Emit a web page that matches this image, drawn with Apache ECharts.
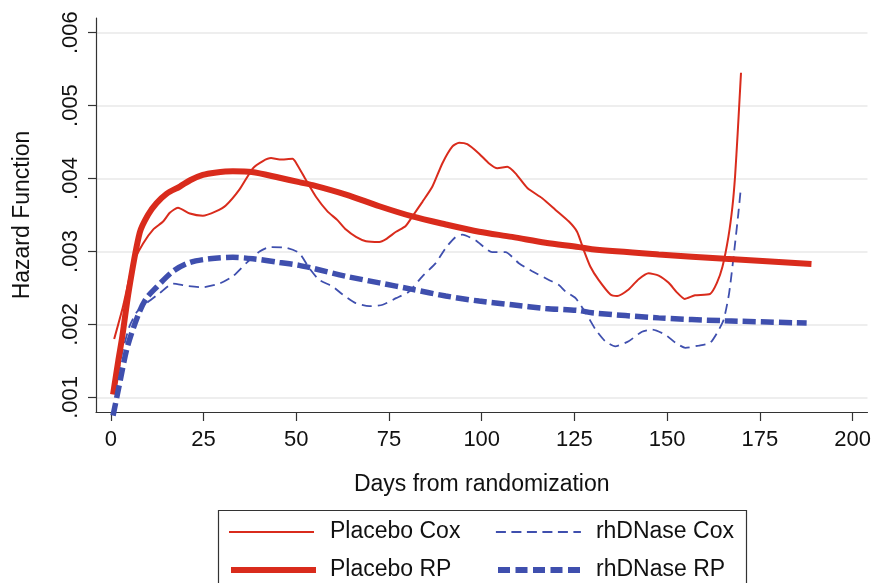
<!DOCTYPE html>
<html><head><meta charset="utf-8">
<script src="https://cdn.jsdelivr.net/npm/echarts@6/dist/echarts.min.js"></script>
<style>html,body{margin:0;padding:0;background:#fff}#c{width:874px;height:583px}</style>
</head><body><div id="c"></div>
<script>
const xTicks = [0, 25, 50, 75, 100, 125, 150, 175, 200];
const yTicks = [0.001, 0.002, 0.003, 0.004, 0.005, 0.006];

const placeboCoxDays = [0.9,3.3,6,8.7,11.4,14.1,15.9,18.1,21.3,24.8,28.3,31,34.7,38.3,41,43.2,45.5,49,50,52.6,55.3,58.4,61.1,63.4,66.1,68.8,72.4,74.2,76.9,79.5,81.3,84,86.7,89.4,92.1,93.9,96.1,99.3,101.9,104.2,106.9,109.1,112.3,116.3,119.9,123.5,125.7,127.5,129.3,131.5,134.7,136.5,139.6,142.3,145,147.7,150.4,152.6,154.7,157.5,161.6,163.4,164.9,166.5,167.6,168.3,169,169.5,169.9];
const placeboCoxHazard = [0.0018,0.00225,0.00284,0.00311,0.0033,0.00341,0.00353,0.0036,0.00352,0.00349,0.00355,0.00363,0.00385,0.00414,0.00424,0.00428,0.00426,0.00427,0.00421,0.00398,0.00375,0.00355,0.00343,0.0033,0.0032,0.00314,0.00313,0.00317,0.00327,0.00335,0.00348,0.00368,0.00389,0.00421,0.00444,0.00449,0.00447,0.00434,0.00421,0.00414,0.00416,0.00407,0.00387,0.00373,0.00357,0.00341,0.00327,0.00302,0.00279,0.00261,0.00241,0.00239,0.00248,0.00262,0.0027,0.00267,0.00257,0.00244,0.00235,0.0024,0.00242,0.00257,0.00279,0.0032,0.00362,0.00403,0.00462,0.00508,0.00545];

const rhdnaseCoxDays = [1,3,5,7,9.6,13.2,16.8,20.4,24.8,29.3,32.9,36.5,40.1,42.8,47.3,50.8,53.5,56.2,59.8,62.5,66.1,69.7,73.3,76.9,80.4,84,87.6,90.3,93,94.8,98.4,102.8,106.4,110,113.6,118.1,120.8,122.6,125.3,128,130.7,133.3,136,139.6,143.2,145.9,149.5,152.2,154.9,158.5,161.6,163.4,165.2,166.7,168.1,169.2,169.9];
const rhdnaseCoxHazard = [0.0011,0.0016,0.00197,0.00217,0.00229,0.00243,0.00256,0.00253,0.00251,0.00256,0.00266,0.00284,0.003,0.00306,0.00305,0.00298,0.00277,0.00261,0.00252,0.00241,0.00229,0.00225,0.00227,0.00236,0.00245,0.00266,0.00284,0.00305,0.0032,0.00323,0.00315,0.00299,0.00299,0.00284,0.00273,0.00261,0.00254,0.00245,0.00236,0.00216,0.00193,0.00177,0.0017,0.00177,0.0019,0.00193,0.00186,0.00175,0.00168,0.00171,0.00175,0.00188,0.00206,0.00243,0.00302,0.00353,0.00389];

const placeboRPDays = [0.6,2,3.1,4.9,7.8,10,12.3,15,18.6,21.5,24.8,28,32.9,38,45.5,50.8,54.4,63.4,72.4,81.3,90.3,99.3,108.2,117.2,126.2,129.7,147.7,165.6,188.9];
const placeboRPHazard = [0.00104,0.0015,0.00184,0.00248,0.00326,0.0035,0.00366,0.00379,0.00389,0.00398,0.00405,0.00408,0.0041,0.00409,0.00401,0.00395,0.00391,0.00378,0.00362,0.00348,0.00337,0.00327,0.0032,0.00312,0.00306,0.00303,0.00296,0.0029,0.00283];

const rhdnaseRPDays = [0.6,2.2,4.5,7.6,9.6,12.1,16.8,21.3,26.6,32.9,38.3,45.5,50.8,54.4,63.4,72.4,81.3,90.3,99.3,108.2,117.2,126.2,129.7,147.7,165.6,187.6];
const rhdnaseRPHazard = [0.00075,0.00115,0.0017,0.00216,0.00236,0.0025,0.00273,0.00285,0.0029,0.00292,0.0029,0.00285,0.00281,0.00277,0.00266,0.00257,0.00248,0.00239,0.00232,0.00227,0.00222,0.00219,0.00216,0.00209,0.00205,0.00202];

const pair = (xs, ys) => xs.map((x, i) => [x, ys[i]]);
const FONT = '"Liberation Sans", Arial, sans-serif';
const RED = '#d92b1c', BLUE = '#3f4fae', INK = '#111';

function legendAt(name, left, top, pad, lineStyle) {
  return {
    data: [{ name: name }], left: left, top: top, padding: 0,
    itemWidth: 85, itemHeight: 30, selectedMode: false,
    itemStyle: { opacity: 0, borderWidth: 0 },
    lineStyle: lineStyle,
    textStyle: { fontSize: 23, color: INK, fontFamily: FONT, lineHeight: 30, padding: [0, 0, 0, pad] }
  };
}

const chart = echarts.init(document.getElementById('c'), null, { renderer: 'canvas' });
chart.setOption({
  animation: false,
  backgroundColor: '#fff',
  grid: { left: 96, right: 5, top: 18, bottom: 171, containLabel: false },
  xAxis: {
    type: 'value', min: -4, max: 204,
    name: 'Days from randomization', nameLocation: 'middle', nameGap: 61,
    nameTextStyle: { fontSize: 23, color: INK, fontFamily: FONT },
    axisLine: { show: true, onZero: false, lineStyle: { color: '#333', width: 1.2 } },
    axisTick: { show: true, length: 9, customValues: xTicks, lineStyle: { color: '#333', width: 1.2 } },
    axisLabel: { customValues: xTicks, fontSize: 22, color: INK, margin: 17, fontFamily: FONT },
    splitLine: { show: false }
  },
  yAxis: {
    type: 'value', min: 0.0008, max: 0.0062,
    name: 'Hazard Function', nameLocation: 'middle', nameGap: 62, nameRotate: 90,
    nameTextStyle: { fontSize: 23, color: INK, fontFamily: FONT },
    axisLine: { show: true, onZero: false, lineStyle: { color: '#333', width: 1.2 } },
    axisTick: { show: true, length: 8, customValues: yTicks, lineStyle: { color: '#333', width: 1.2 } },
    axisLabel: { customValues: yTicks, rotate: 90, fontSize: 22, color: INK, margin: 14, fontFamily: FONT,
      formatter: v => v.toFixed(3).replace(/^0/, '') },
    splitLine: { show: true, lineStyle: { color: '#e9e9e9', width: 1.5 } }
  },
  legend: [
    legendAt('Placebo Cox', 228, 517, 11, { color: RED, width: 2 }),
    legendAt('rhDNase Cox', 495, 517, 10, { color: BLUE, width: 1.8, type: [10, 5.5] }),
    legendAt('Placebo RP', 228, 555, 9, { color: RED, width: 6 }),
    legendAt('rhDNase RP', 495, 555, 8, { color: BLUE, width: 6, type: [12, 5.5] })
  ],
  graphic: [{
    type: 'rect', shape: { x: 218.5, y: 510.5, width: 528, height: 100 },
    style: { fill: 'none', stroke: '#333', lineWidth: 1.2 }, silent: true
  }],
  series: [
    { name: 'Placebo Cox', type: 'line', data: pair(placeboCoxDays, placeboCoxHazard), showSymbol: false, symbol: 'none',
      smooth: 0.2, color: RED, lineStyle: { color: RED, width: 2 } },
    { name: 'rhDNase Cox', type: 'line', data: pair(rhdnaseCoxDays, rhdnaseCoxHazard), showSymbol: false, symbol: 'none',
      smooth: 0.2, color: BLUE, lineStyle: { color: BLUE, width: 1.8, type: [10, 6] } },
    { name: 'Placebo RP', type: 'line', data: pair(placeboRPDays, placeboRPHazard), showSymbol: false, symbol: 'none',
      smooth: 0.3, color: RED, lineStyle: { color: RED, width: 6 } },
    { name: 'rhDNase RP', type: 'line', data: pair(rhdnaseRPDays, rhdnaseRPHazard), showSymbol: false, symbol: 'none',
      smooth: 0.3, clip: false, color: BLUE, lineStyle: { color: BLUE, width: 5.5, type: [13, 5] } }
  ]
});
</script></body></html>
